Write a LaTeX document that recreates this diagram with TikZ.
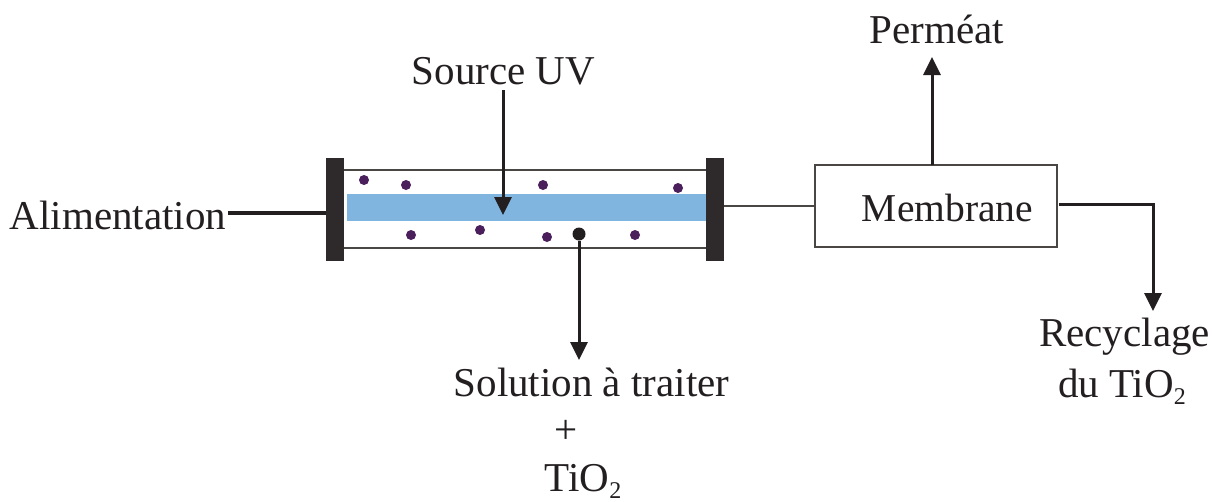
\documentclass[tikz,border=0pt]{standalone}
\usepackage{fontspec}
\setmainfont{Liberation Serif}
\usetikzlibrary{arrows.meta}
\definecolor{ink}{HTML}{231F20}
\definecolor{lineg}{HTML}{4A4644}
\definecolor{uvblue}{HTML}{7FB5DE}
\definecolor{part}{HTML}{4B1F5C}
\newcommand{\subtwo}{\raisebox{-7pt}{\fontsize{24}{24}\selectfont 2}}
\tikzset{
  lbl/.style={font=\fontsize{41}{46}\selectfont,text=ink,inner sep=0pt,anchor=base},
  capbar/.style={fill=ink!95,draw=none,minimum width=18pt,minimum height=103pt,inner sep=0pt},
  tubeline/.style={draw=lineg,line width=2.4pt},
  conn/.style={draw=ink,line width=3pt},
  thin conn/.style={draw=lineg,line width=2pt},
  arr/.style={conn,-{Triangle[length=18pt,width=17pt]}},
  dot/.style={circle,fill=part,draw=none,minimum size=10pt,inner sep=0pt}
}
\begin{document}
\begin{tikzpicture}[x=1pt,y=-1pt]
\useasboundingbox (0,0) rectangle (1220,501);
% tube
\node[fill=uvblue,draw=none,minimum width=359pt,minimum height=27pt,inner sep=0pt] (uv) at (526.5,207.5) {};
\node[capbar] (capl) at (335,209.5) {};
\node[capbar] (capr) at (715,209.5) {};
\coordinate (tl) at (capl.east |- 0,170);
\coordinate (tr) at (capr.west |- 0,170);
\coordinate (bl) at (capl.east |- 0,248);
\coordinate (br) at (capr.west |- 0,248);
\draw[tubeline] (tl) -- (tr);
\draw[tubeline] (bl) -- (br);
% particles
\node[dot] (p1) at (364,180) {};
\node[dot] (p2) at (406,185) {};
\node[dot] (p3) at (543,185) {};
\node[dot] (p4) at (678,188) {};
\node[dot] (p5) at (411,235) {};
\node[dot] (p6) at (480,230) {};
\node[dot] (p7) at (547,237) {};
\node[dot] (p8) at (635,235) {};
\node[circle,fill=ink,draw=none,minimum size=13pt,inner sep=0pt] (sol) at (579,234) {};
% membrane
\node[draw=lineg,line width=2.7pt,fill=white,minimum width=242pt,minimum height=82pt,inner sep=0pt] (mem) at (936,206) {};
\node[lbl,font=\fontsize{39.5}{44}\selectfont] (memt) at (947.5,221) {Membrane};
% labels
\node[lbl] (src) at (503.5,84) {Source UV};
\node[lbl] (perm) at (937,43) {Perméat};
\node[lbl] (alim) at (118,229) {Alimentation};
\node[lbl] (sola) at (591.5,396) {Solution à traiter};
\node[lbl] (solb) at (566,443) {+};
\node[lbl] (solc) at (583,491) {TiO\subtwo};
\node[lbl] (reca) at (1124.5,346) {Recyclage};
\node[lbl] (recb) at (1122,397) {du TiO\subtwo};
% connectors
\coordinate (srcend) at (503,215);
\coordinate (srcstart) at (503,90);
\coordinate (solend) at (579,360);
\coordinate (permend) at (932,57);
\coordinate (permstart) at (932,165);
\coordinate (recstart) at (1059,204);
\coordinate (reccorner) at (1153,204);
\coordinate (recend) at (1153,311);
\coordinate (alstart) at (228,213);
\coordinate (alend) at (326,213);
\coordinate (memin) at (815,206);
\coordinate (capout) at (724,206);
\draw[arr] (srcstart) -- (srcend);
\draw[arr] (sol) -- (solend);
\draw[arr] (permstart) -- (permend);
\draw[arr] (recstart) -- (reccorner) -- (recend);
\draw[conn,line width=3.4pt] (alstart) -- (alend);
\draw[thin conn] (capout) -- (memin);
\end{tikzpicture}
\end{document}
